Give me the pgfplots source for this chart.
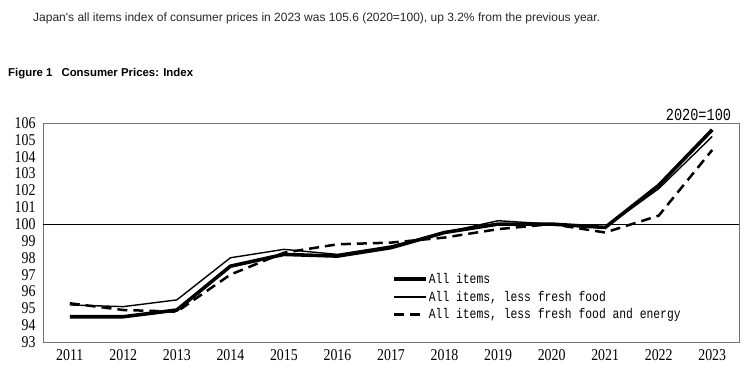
\documentclass[border=0pt]{standalone}
\usepackage{fontspec}
\usepackage{pgfplots}
\pgfplotsset{compat=1.18}
\setmainfont{Liberation Sans}
\newfontfamily\tickfont[FakeStretch=0.84]{Liberation Serif}
\newfontfamily\legfont[FakeStretch=0.81]{Liberation Mono}
\newfontfamily\basefont[FakeStretch=0.80]{Liberation Mono}
\newfontfamily\titlefont{Liberation Sans}
\begin{document}
\begin{tikzpicture}
\useasboundingbox (0pt,0pt) rectangle (750pt,-381pt);
\node[anchor=west, inner sep=0pt, text=black!85] at (33pt,-18pt) {\titlefont\fontsize{12}{14}\selectfont Japan's all items index of consumer prices in 2023 was 105.6 (2020=100), up 3.2\% from the previous year.};
\node[anchor=west, inner sep=0pt, text=black] at (8pt,-74pt) {\titlefont\bfseries\fontsize{11.4}{13}\selectfont Figure 1\hspace{9pt}Consumer Prices: Index};
\begin{axis}[
  at={(43pt,-342pt)}, anchor=south west,
  scale only axis, width=696pt, height=219pt,
  xmin=2010.5, xmax=2023.5, ymin=93, ymax=106,
  xtick={2011,2012,2013,2014,2015,2016,2017,2018,2019,2020,2021,2022,2023},
  xticklabels={2011,2012,2013,2014,2015,2016,2017,2018,2019,2020,2021,2022,2023},
  ytick={93,94,95,96,97,98,99,100,101,102,103,104,105,106},
  major tick length=0pt,
  axis line style={black!55, line width=0.9pt},
  /pgf/number format/assume math mode=true,
  ticklabel style={font=\tickfont\fontsize{16.5}{18}\selectfont},
  xticklabel style={yshift=-4pt},
  yticklabel style={xshift=-4pt},
  legend style={at={(0.497,0.33)}, anchor=north west, draw=none, fill=none,
    font=\legfont\fontsize{14}{15}\selectfont, row sep=3.8pt,
    nodes={inner sep=1.2pt}},
  legend cell align=left,
  legend image code/.code={\draw[#1] (0pt,0pt) -- (32pt,0pt);},
  clip=false,
]
\addplot[black, line width=0.8pt, forget plot] coordinates {(2010.5,100) (2023.5,100)};
\addplot[black, line width=3.6pt] coordinates {
(2011,94.5) (2012,94.5) (2013,94.9) (2014,97.5) (2015,98.2) (2016,98.1) (2017,98.6)
(2018,99.5) (2019,100.0) (2020,100.0) (2021,99.8) (2022,102.3) (2023,105.6)};
\addlegendentry{All items}
\addplot[black, line width=1.4pt] coordinates {
(2011,95.2) (2012,95.1) (2013,95.5) (2014,98.0) (2015,98.5) (2016,98.2) (2017,98.7)
(2018,99.5) (2019,100.2) (2020,100.0) (2021,99.8) (2022,102.1) (2023,105.2)};
\addlegendentry{All items, less fresh food}
\addplot[black, line width=2.5pt, dash pattern=on 10pt off 6pt] coordinates {
(2011,95.3) (2012,94.9) (2013,94.8) (2014,97.0) (2015,98.3) (2016,98.8) (2017,98.9)
(2018,99.2) (2019,99.7) (2020,100.0) (2021,99.5) (2022,100.5) (2023,104.4)};
\addlegendentry{All items, less fresh food and energy}
\node[anchor=south east, inner sep=0pt] at (rel axis cs:0.989,1.01) {\basefont\fontsize{17}{18}\selectfont 2020=100};
\end{axis}
\end{tikzpicture}
\end{document}
